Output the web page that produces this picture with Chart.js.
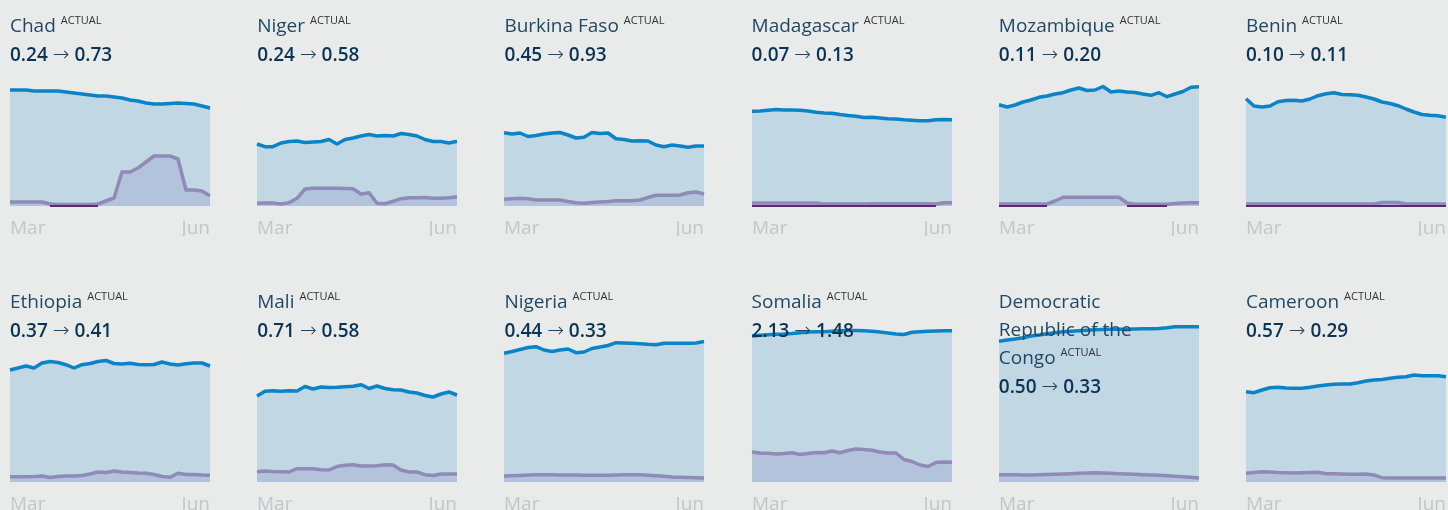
<!DOCTYPE html>
<html>
<head>
<meta charset="utf-8">
<script src="https://cdn.jsdelivr.net/npm/chart.js@4.4.1/dist/chart.umd.min.js"></script>
<style>
  body { margin: 0; background: #e9ebea; width: 1448px; height: 510px; overflow: hidden; font-family: 'Open Sans', sans-serif; }
  .panel { position: absolute; width: 200px; height: 240px; }
  .panel canvas { position: absolute; left: -3px; top: 40px; }
  .head { position: absolute; left: 0; top: 10.6px; width: 172px; z-index: 2; }
  .name { font-size: 19px; line-height: 28px; color: #1f4866; }
  .name span { font-size: 11px; color: #333; position: relative; top: -8px; margin-left: 5px; }
  .vals { font-size: 19px; line-height: 24px; font-weight: 600; color: #0b3454; white-space: nowrap; }
  .vals .arr { font-family: 'DejaVu Sans', sans-serif; font-weight: 300; font-size: 20px; color: #23455f; }
</style>
</head>
<body>
<script>
// 国家与数值
const countries = ['Chad', 'Niger', 'Burkina Faso', 'Madagascar', 'Mozambique', 'Benin',
                   'Ethiopia', 'Mali', 'Nigeria', 'Somalia', 'Democratic Republic of the Congo', 'Cameroon'];
const fromValues = ['0.24', '0.24', '0.45', '0.07', '0.11', '0.10', '0.37', '0.71', '0.44', '2.13', '0.50', '0.57'];
const toValues   = ['0.73', '0.58', '0.93', '0.13', '0.20', '0.11', '0.41', '0.58', '0.33', '1.48', '0.33', '0.29'];

// 日期 (Mar 1 - Jun 1)
const dates = ['03-01','03-05','03-08','03-12','03-16','03-19','03-23','03-27','03-30',
               '04-03','04-07','04-11','04-14','04-18','04-22','04-25','04-29',
               '05-03','05-07','05-10','05-14','05-18','05-21','05-25','05-29','06-01'];
const tickLabels = ['Mar', 'Jun'];

// 上层序列 (蓝线)
const upper = [
  [116,116,116,115,115,115,115,114,113,112,111,110,110,109,108,106,105,103,102,102,102.5,103,102.5,102,100,98],
  [62,59.3,59.3,63,64.5,65,63.5,64,64.5,66.5,62,66.5,68,70,71.5,70,70.5,70,72.5,71.5,70,66.5,64.5,64.5,63,64.7],
  [73.3,72,73,69.5,70.5,72,73,73.5,71,68,68.7,73.5,72.5,73,67.3,66.5,65,65.3,65,61,59.3,61,60,58.7,60,60],
  [94.7,95,95.7,96.5,96,96,95.7,95,93.7,93,92.7,91.5,90.5,89.7,88.5,88.7,88,87.3,87,86.2,85.7,85.3,85.3,86.2,86.5,86.3],
  [101.3,99,101,104,106,108.7,110,112,113.3,116,118,115.5,116,119.5,114,115,114,113.5,112,110.7,113.3,109.3,112,114.5,118.7,119.3],
  [107.3,100,99,100,104.3,105.5,105.7,105,107,110.3,112.3,113.3,111.5,111.3,110.7,109,107,104,102.5,100.3,97,94,91.5,90.7,90.3,88.7],
  [112,114,116,114,119,120.5,119.5,117.3,114,117.3,118.5,120.5,121.5,118.5,118,118.7,117.5,117.3,117.5,120,118,117,118.3,119,119,116],
  [86,90.7,91.3,90.7,91.3,91,95.5,93,95,94.5,94.7,95.3,95.7,97.3,93.5,96,93.5,92.3,92,90,89,86.5,85,88,90,87],
  [128.7,130.5,132.5,134.5,135.3,132,130.5,132,133,129.3,130,133.5,135,136.5,139.3,139,138.7,138.3,137.7,137.3,138.7,138.7,138.7,138.7,139,140.5],
  [146,146.7,147.3,147.7,148,148.5,149.2,150,150.2,150.3,150.8,151.3,151.5,151.5,151.3,150.8,150,149,148,147.5,149.7,150.2,150.7,151,151.3,151.3],
  [140.7,142,143,144.3,146,147,148.3,149.3,150.3,150.8,151.3,151.8,152.3,152.5,152.7,152.7,152.7,153,153.3,153.3,153.5,154.3,155.3,155.3,155.3,155.3],
  [90.3,89.3,92,94.3,94.7,94,93.7,93.7,94.7,96,97,97.7,98,98,99.3,101,102,102.5,103.7,104.7,105.3,107,106.3,106.3,106.3,105.3]
];

// 下层序列 (紫线)
const lower = [
  [4,4,4,4,4,2,1.5,1.5,1.5,1.5,1.5,2,5,8,34,34,38,44,50,50,50,47,16,16,15,10],
  [2.7,3,3,2,3.3,7.7,17,17.7,17.7,17.7,17.7,17.5,17.3,12,13.3,2.7,2.3,4.7,7.3,8.3,8.3,8.5,7.7,7.7,8.3,9.3],
  [6.7,7.2,7.7,7.3,6,6,6,6,4.5,3.3,2.7,3.5,4,4.5,5.3,5.3,5.3,6,8.5,10.7,10.7,10.7,11,13.3,14,12],
  [3,3,3,3,3,3,3,3,3,2,2,2,2,2,2,2.3,2.3,2.3,2.3,2.3,2.3,2.3,2.3,2,3.3,3.3],
  [2,2,2,2,2,2,2,5,8.7,8.7,8.7,8.7,8.7,8.7,8.7,8.7,3,1.8,1.8,1.8,1.8,1.8,2.5,3,3.3,3.3],
  [2,2,2,2,2,2,2,2,2,2,2,2,2,2,2,2,2,3.5,3.5,3.5,2,2,2,2,2,2],
  [5.3,5.3,5.3,5.5,6,4.5,5.5,6,6,6.5,8,10,9.5,11,10,9.5,9,8.7,7.5,5.5,4.7,8.7,7.5,7.5,7,6.7],
  [10.3,11,10.5,10.3,10,13.3,13.3,13.3,12.3,12,15.5,16.7,17.3,16,16,16.3,17.3,17,12,10,10,7.3,6.5,8,8,8],
  [6,6.3,6.6,7,7.2,7.3,7.3,7,7,7,6.8,6.7,6.7,6.8,7,7.2,7.3,7.3,6.8,6.2,5.7,5,4.7,4.5,4.3,4],
  [30,29,28.7,28,28.5,29.3,27.5,28.5,29.5,29.2,31,29.3,31.5,33,32.5,31.7,30,29,29,22.5,20.5,17,15.5,19.5,20,19.7],
  [7.3,7.3,7.2,7,7,7.2,7.5,7.8,8,8.3,8.7,9,9.2,9,8.7,8.3,8,7.7,7.3,7,6.7,6.3,5.7,5.3,4.7,4],
  [8.7,9.5,10.3,10,9.5,9.3,9,9.2,9.5,9.7,8.3,8.3,8,7.7,7.7,8,7,4.3,4,4,4,4,4,4,4,4]
];

// 底部深紫线 (null = 不显示)
const n = null;
const base = [
  [n,n,n,n,n,0,0,0,0,0,0,0,n,n,n,n,n,n,n,n,n,n,n,n,n,n],
  [],
  [],
  [0,0,0,0,0,0,0,0,0,0,0,0,0,0,0,0,0,0,0,0,0,0,0,0,n,n],
  [0,0,0,0,0,0,0,n,n,n,n,n,n,n,n,n,0,0,0,0,0,0,n,n,n,n],
  [0,0,0,0,0,0,0,0,0,0,0,0,0,0,0,0,0,0,0,0,0,0,0,0,0,0],
  [], [], [], [], [], []
];

countries.forEach((name, i) => {
  const row = Math.floor(i / 6), col = i % 6;
  const panel = document.createElement('div');
  panel.className = 'panel';
  panel.style.left = (10 + col * 247.2) + 'px';
  panel.style.top = (row * 276) + 'px';

  // 画布两侧各多出 3px, 抵消刻度的水平内边距
  const canvas = document.createElement('canvas');
  canvas.width = 206;
  canvas.height = 196;
  panel.appendChild(canvas);

  const head = document.createElement('div');
  head.className = 'head';
  head.innerHTML = `<div class="name">${name}<span>ACTUAL</span></div>` +
                   `<div class="vals">${fromValues[i]} <span class="arr">→</span> ${toValues[i]}</div>`;
  panel.appendChild(head);
  document.body.appendChild(panel);

  new Chart(canvas.getContext('2d'), {
    type: 'line',
    data: {
      labels: dates,
      datasets: [
        { data: base[i], borderColor: '#5b2a74', borderWidth: 2, fill: false, clip: false },
        { data: lower[i], borderColor: '#8f8bb6', backgroundColor: '#b4c3dc', borderWidth: 3.5, fill: 'origin', clip: false },
        { data: upper[i], borderColor: '#0a84c6', backgroundColor: '#c1d7e3', borderWidth: 3.5, fill: 'origin', clip: false }
      ]
    },
    options: {
      responsive: false,
      animation: false,
      layout: { padding: { top: 6 }, autoPadding: false },
      plugins: { legend: { display: false }, tooltip: { enabled: false } },
      elements: {
        point: { radius: 0 },
        line: { tension: 0, borderJoinStyle: 'round', borderCapStyle: 'butt' }
      },
      scales: {
        x: {
          offset: false,
          grid: { display: false },
          border: { display: false },
          ticks: {
            autoSkip: false,
            maxRotation: 0,
            align: 'inner',
            padding: 3,
            color: '#c4c6c7',
            font: { family: 'Open Sans', size: 19 },
            callback: (v, idx, ticks) => idx === 0 ? tickLabels[0] : (idx === ticks.length - 1 ? tickLabels[1] : '')
          },
          afterFit: s => { s.height = 30; }
        },
        y: { display: false, min: 0, max: 160 }
      }
    }
  });
});
</script>
</body>
</html>
